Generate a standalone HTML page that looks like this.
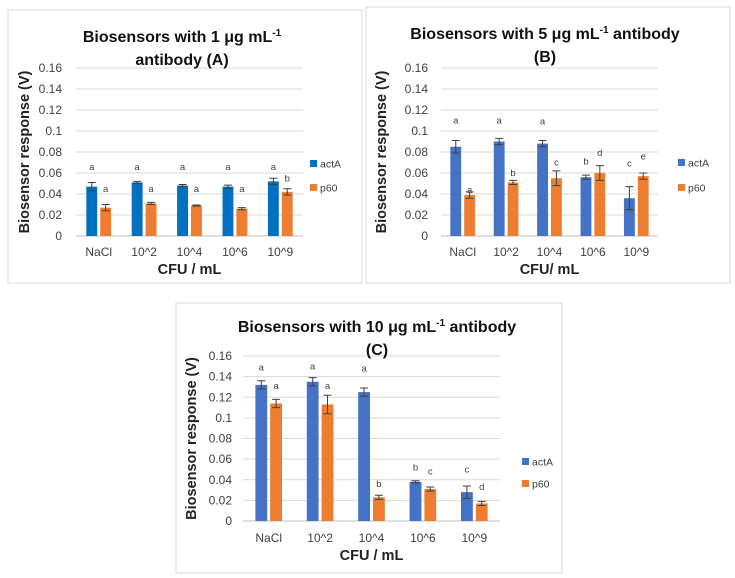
<!DOCTYPE html>
<html><head><meta charset="utf-8">
<style>
body{margin:0;background:#fff;width:735px;height:578px;overflow:hidden;font-family:"Liberation Sans",Arial,sans-serif}
svg{position:absolute;left:0;top:0}
</style></head>
<body>
<svg id="svg" width="735" height="578" xmlns="http://www.w3.org/2000/svg"></svg>
<script>
const categories=["NaCl","10^2","10^4","10^6","10^9"];
const yTicks=[0,0.02,0.04,0.06,0.08,0.1,0.12,0.14,0.16];
const yTickLabels=["0","0.02","0.04","0.06","0.08","0.1","0.12","0.14","0.16"];
// Chart A
const aActA=[0.047,0.051,0.048,0.047,0.052];
const aActAErr=[0.004,0.001,0.001,0.0015,0.003];
const aP60=[0.027,0.031,0.029,0.026,0.042];
const aP60Err=[0.003,0.001,0.0005,0.001,0.003];
const aActALetters=["a","a","a","a","a"];
const aP60Letters=["a","a","a","a","b"];
const aActALetterY=[0.063,0.063,0.063,0.063,0.063];
const aP60LetterY=[0.042,0.042,0.042,0.042,0.052];
// Chart B
const bActA=[0.085,0.090,0.088,0.056,0.036];
const bActAErr=[0.006,0.003,0.003,0.002,0.011];
const bP60=[0.039,0.051,0.055,0.060,0.057];
const bP60Err=[0.003,0.002,0.007,0.007,0.003];
const bActALetters=["a","a","a","b","c"];
const bP60Letters=["a","b","c","d","e"];
const bActALetterY=[0.107,0.107,0.106,0.068,0.066];
const bP60LetterY=[0.041,0.057,0.067,0.076,0.073];
// Chart C
const cActA=[0.132,0.135,0.125,0.038,0.028];
const cActAErr=[0.004,0.004,0.004,0.001,0.006];
const cP60=[0.114,0.113,0.023,0.031,0.017];
const cP60Err=[0.004,0.009,0.002,0.002,0.002];
const cActALetters=["a","a","a","b","c"];
const cP60Letters=["a","a","b","c","d"];
const cActALetterY=[0.146,0.147,0.145,0.049,0.047];
const cP60LetterY=[0.128,0.128,0.033,0.045,0.030];

const NS="http://www.w3.org/2000/svg";
const svg=document.getElementById('svg');
function mk(tag,attrs,parent,text){const e=document.createElementNS(NS,tag);for(const k in attrs)e.setAttribute(k,attrs[k]);if(text!==undefined)e.textContent=text;(parent||svg).appendChild(e);return e;}

function chart(cfg){
  const g=mk('g',{});
  
  
  const fr=mk('rect',{x:cfg.box[0],y:cfg.box[1],width:cfg.box[2],height:cfg.box[3],fill:'#fff',stroke:'#d9d9d9','stroke-width':1},g);
  
  
  const y=v=>cfg.y0-(v/0.16)*(cfg.y0-cfg.y16);
  const cw=(cfg.x1-cfg.x0)/categories.length;
  const cx=i=>cfg.x0+cw*(i+0.5);
  yTicks.forEach((t,i)=>{
    const l=mk('line',{x1:cfg.x0,x2:cfg.x1,y1:y(t),y2:y(t),stroke:i==0?'#bfbfbf':'#d9d9d9','stroke-width':1},g);
    
    
    const tx=mk('text',{x:cfg.tickX,y:y(t)+4,'text-anchor':'end','font-size':12,fill:'#404040'},g,yTickLabels[i]);
    
    
  });
  const bw=cw*cfg.bwf;
  const series=[[cfg.actA,cfg.actAErr,cfg.blue,-1,cfg.actALetters,cfg.actALetterY,'actA'],[cfg.p60,cfg.p60Err,'#ED7D31',1,cfg.p60Letters,cfg.p60LetterY,'p60']];
  series.forEach(s=>{
    categories.forEach((c,i)=>{
      const xc=cx(i)+s[3]*(bw/2+1.5);
      const r=mk('rect',{x:xc-bw/2,y:y(s[0][i]),width:bw,height:y(0)-y(s[0][i]),fill:s[2]},g);
      
      
      const hi=y(s[0][i]+s[1][i]),lo=y(s[0][i]-s[1][i]);
      const eb=mk('path',{d:`M${xc},${hi}V${lo}M${xc-4},${hi}H${xc+4}M${xc-4},${lo}H${xc+4}`,stroke:'#404040','stroke-width':1,fill:'none'},g);
      
      
      const lt=mk('text',{x:xc,y:y(s[5][i]),'text-anchor':'middle','font-size':9.5,fill:'#404040'},g,s[4][i]);
      
      
    });
  });
  categories.forEach((c,i)=>{
    const t=mk('text',{x:cx(i),y:cfg.catY,'text-anchor':'middle','font-size':12,fill:'#404040'},g,c);
    
    
  });
  const xt=mk('text',{x:(cfg.x0+cfg.x1)/2,y:cfg.xTitleY,'text-anchor':'middle','font-size':14.5,'font-weight':'bold',fill:'#222'},g,cfg.xTitle);
  
  
  const ym=(cfg.y0+cfg.y16)/2;
  const yt=mk('text',{x:cfg.yTitleX,y:ym,'text-anchor':'middle','font-size':14.5,'font-weight':'bold',fill:'#222',transform:`rotate(-90 ${cfg.yTitleX} ${ym})`},g,cfg.yTitle);
  
  
  cfg.title.forEach((ln,k)=>{
    const t=mk('text',{x:cfg.titleX,y:cfg.titleY+k*23,'text-anchor':'middle','font-size':16,'font-weight':'bold',fill:'#111'},g);
    
    
    t.textContent=ln[0];
    if(ln[1]){const sp=mk('tspan',{'font-size':10,dy:-6},t,ln[1]);const sp2=mk('tspan',{dy:6},t,ln[2]);}
  });
  [['actA',cfg.blue],['p60','#ED7D31']].forEach((l,k)=>{
    const lg=mk('g',{},g);
    
    
    mk('rect',{x:cfg.legX,y:cfg.legY+k*cfg.legGap-4,width:7,height:7,fill:l[1]},lg);
    mk('text',{x:cfg.legX+10,y:cfg.legY+k*cfg.legGap+3.5,'font-size':10.5,fill:'#404040'},lg,l[0]);
  });
}
chart({id:'chart-a',box:[8,10,354,273],x0:76,x1:303,y0:236,y16:68,tickX:62,bwf:0.24,blue:'#0070C0',
  actA:aActA,actAErr:aActAErr,p60:aP60,p60Err:aP60Err,actALetters:aActALetters,p60Letters:aP60Letters,actALetterY:aActALetterY,p60LetterY:aP60LetterY,
  catY:256,xTitleY:274,xTitle:'CFU / mL',yTitleX:29,yTitle:'Biosensor response  (V)',
  title:[['Biosensors with 1 μg mL','-1',''],['antibody (A)']],titleX:182,titleY:42,legX:310,legY:164,legGap:24});
chart({id:'chart-b',box:[366,7,364,276],x0:441,x1:658,y0:236,y16:68,tickX:428,bwf:0.25,blue:'#4472C4',
  actA:bActA,actAErr:bActAErr,p60:bP60,p60Err:bP60Err,actALetters:bActALetters,p60Letters:bP60Letters,actALetterY:bActALetterY,p60LetterY:bP60LetterY,
  catY:256,xTitleY:274,xTitle:'CFU/ mL',yTitleX:386,yTitle:'Biosensor response (V)',
  title:[['Biosensors with 5 μg mL','-1','  antibody'],['(B)']],titleX:545,titleY:39,legX:678,legY:163,legGap:25});
chart({id:'chart-c',box:[176,303,386,270],x0:243,x1:500,y0:521,y16:356,tickX:232,bwf:0.23,blue:'#4472C4',
  actA:cActA,actAErr:cActAErr,p60:cP60,p60Err:cP60Err,actALetters:cActALetters,p60Letters:cP60Letters,actALetterY:cActALetterY,p60LetterY:cP60LetterY,
  catY:542,xTitleY:560,xTitle:'CFU / mL',yTitleX:196,yTitle:'Biosensor response (V)',
  title:[['Biosensors with 10 μg mL','-1','  antibody'],['(C)']],titleX:377,titleY:332,legX:522,legY:462,legGap:22});
</script>
</body></html>
